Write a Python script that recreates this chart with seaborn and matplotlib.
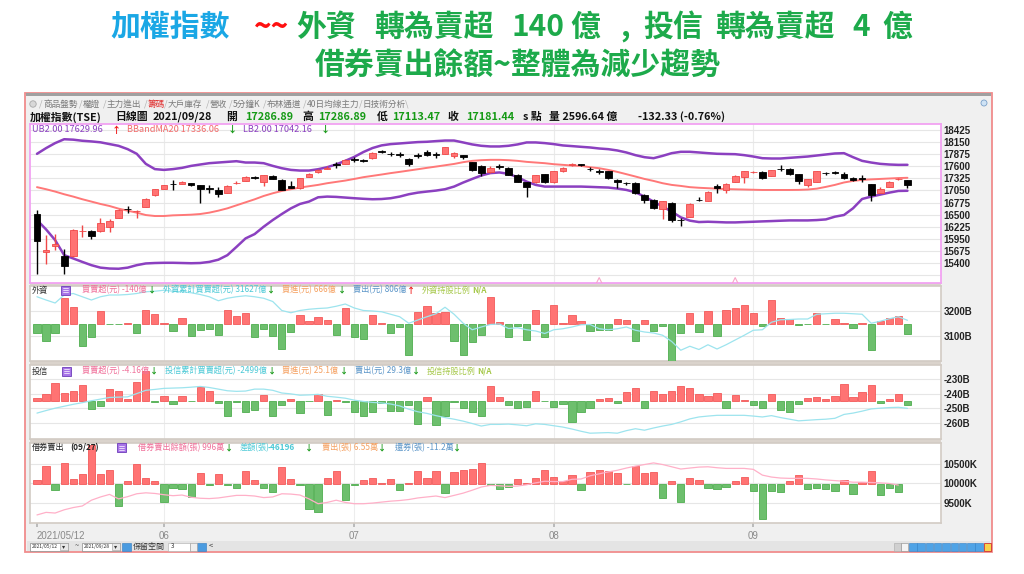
import matplotlib
matplotlib.use("Agg")
import matplotlib.pyplot as plt
from matplotlib.patches import Rectangle
import seaborn as sns

# ---------------- data ----------------
month_ticks = [0, 14, 35, 57, 79]
month_labels = ["2021/05/12", "06", "07", "08", "09"]

price_open = [16515, 15660, 15787, 15560, 15567, 16120, 16128, 16135, 16227, 16430,
              16635, 16575, 16683, 16942, 17093, 17200, 17197, 17213, 17168, 17090,
              17061, 17000, 17210, 17274, 17350, 17243, 17380, 17288, 17152, 17100,
              17365, 17465, 17545, 17635, 17652, 17750, 17730, 17783, 17930, 17880,
              17865, 17760, 17850, 17920, 17865, 17875, 17820, 17845, 17684, 17593,
              17465, 17600, 17547, 17404, 17238, 17230, 17420, 17238, 17480, 17625,
              17632, 17538, 17485, 17480, 17288, 17218, 17213, 16947, 16833, 16620,
              16772, 16385, 16456, 16838, 16810, 17152, 17061, 17238, 17365, 17460,
              17457, 17380, 17540, 17533, 17418, 17163, 17252, 17445, 17460, 17425,
              17342, 17312, 17190, 17000, 17138, 17300, 17286.89]
price_close = [15908, 15700, 15833, 15348, 16151, 16140, 16020, 16303, 16357, 16606,
               16620, 16590, 16865, 17077, 17170, 17185, 17243, 17168, 17093, 17080,
               16963, 17152, 17225, 17365, 17340, 17395, 17320, 17061, 17115, 17330,
               17418, 17515, 17555, 17625, 17743, 17740, 17720, 17909, 17920, 17870,
               17855, 17654, 17840, 17860, 17855, 18033, 17898, 17800, 17502, 17442,
               17556, 17590, 17404, 17252, 17124, 17404, 17230, 17495, 17556, 17632,
               17625, 17530, 17478, 17330, 17238, 17210, 16986, 16833, 16643, 16810,
               16378, 16375, 16735, 16830, 17024, 17100, 17197, 17380, 17480, 17468,
               17330, 17515, 17530, 17418, 17273, 17310, 17480, 17440, 17455, 17330,
               17288, 17308, 16947, 17077, 17250, 17313, 17181.44]
price_high = [16600, 16037, 16060, 15719, 16165, 16265, 16160, 16430, 16400, 16640,
              16706, 16605, 16880, 17090, 17180, 17288, 17255, 17225, 17180, 17168,
              17120, 17165, 17260, 17375, 17370, 17400, 17400, 17300, 17265, 17340,
              17440, 17530, 17600, 17690, 17760, 17800, 17760, 17930, 17960, 17920,
              17910, 17780, 17900, 17970, 17920, 18034, 17910, 17860, 17700, 17620,
              17600, 17650, 17580, 17420, 17250, 17410, 17430, 17500, 17570, 17660,
              17650, 17580, 17530, 17500, 17300, 17240, 17230, 16960, 16850, 16820,
              16790, 16430, 16760, 16900, 17030, 17200, 17210, 17390, 17490, 17480,
              17480, 17520, 17620, 17550, 17430, 17320, 17490, 17470, 17490, 17470,
              17360, 17404, 17200, 17120, 17260, 17340, 17286.89]
price_low = [15165, 15378, 15696, 15150, 15540, 16000, 15940, 16105, 16110, 16420,
             16532, 16415, 16670, 16930, 17080, 17061, 17190, 17150, 16772, 17000,
             16897, 16990, 17190, 17265, 17310, 17152, 17310, 17050, 17100, 17090,
             17350, 17440, 17530, 17560, 17640, 17690, 17690, 17770, 17900, 17820,
             17810, 17600, 17790, 17820, 17790, 17870, 17780, 17760, 17480, 17380,
             17440, 17540, 17390, 17230, 16897, 17220, 17210, 17220, 17470, 17600,
             17600, 17480, 17420, 17310, 17100, 17180, 16960, 16760, 16620, 16397,
             16340, 16248, 16440, 16800, 16800, 17000, 17000, 17230, 17220, 17440,
             17310, 17370, 17500, 17400, 17200, 17130, 17240, 17410, 17430, 17310,
             17270, 17252, 16800, 16990, 17130, 17280, 17113.47]

bb_upper = [17879, 18008, 18122, 18210, 18200, 18175, 18160, 18140, 18100, 18060,
            17985, 17880, 17652, 17533, 17515, 17533, 17561, 17606, 17637, 17667,
            17682, 17697, 17712, 17682, 17682, 17667, 17606, 17553, 17515, 17500,
            17500, 17530, 17576, 17640, 17720, 17810, 17920, 18010, 18070, 18099,
            18114, 18130, 18145, 18152, 18167, 18180, 18180, 18137, 18092, 18061,
            18046, 18046, 18061, 18092, 18137, 18137, 18122, 18099, 18069, 18054,
            18038, 18023, 18000, 17985, 17955, 17910, 17849, 17803, 17780, 17833,
            17894, 17925, 17925, 17910, 17894, 17880, 17875, 17871, 17849, 17818,
            17780, 17773, 17773, 17788, 17803, 17818, 17841, 17864, 17887, 17894,
            17803, 17720, 17682, 17652, 17637, 17629, 17630]
bb_mid = [17124, 17077, 17024, 16963, 16910, 16850, 16797, 16743, 16697, 16637,
          16591, 16546, 16492, 16470, 16470, 16485, 16492, 16500, 16515, 16546,
          16591, 16644, 16712, 16780, 16848, 16924, 16985, 17038, 17077, 17115,
          17145, 17175, 17213, 17243, 17273, 17310, 17350, 17380, 17410, 17442,
          17470, 17500, 17530, 17561, 17590, 17620, 17650, 17690, 17720, 17735,
          17743, 17743, 17735, 17720, 17697, 17682, 17667, 17644, 17629, 17614,
          17606, 17576, 17553, 17515, 17470, 17418, 17365, 17310, 17265, 17213,
          17175, 17152, 17124, 17110, 17100, 17090, 17080, 17075, 17070, 17065,
          17060, 17060, 17060, 17060, 17062, 17070, 17090, 17130, 17175, 17230,
          17265, 17288, 17300, 17310, 17320, 17330, 17336]
bb_lower = [16378, 16167, 15924, 15583, 15508, 15430, 15356, 15300, 15280, 15275,
            15300, 15356, 15395, 15405, 15410, 15410, 15405, 15400, 15405, 15430,
            15480, 15583, 15770, 15962, 16060, 16227, 16378, 16515, 16643, 16743,
            16797, 16894, 16910, 16903, 16888, 16873, 16860, 16850, 16855, 16873,
            16910, 16963, 17000, 17024, 17046, 17077, 17137, 17228, 17310, 17388,
            17442, 17457, 17425, 17350, 17250, 17175, 17137, 17137, 17137, 17137,
            17137, 17130, 17122, 17115, 17092, 17061, 17008, 16910, 16797, 16683,
            16570, 16440, 16365, 16333, 16340, 16333, 16325, 16325, 16333, 16340,
            16348, 16355, 16363, 16370, 16370, 16370, 16378, 16393, 16455, 16493,
            16645, 16856, 16910, 16955, 17000, 17038, 17042]

price_grid = [15125, 15400, 15675, 15950, 16225, 16500, 16775, 17050, 17325, 17600,
              17875, 18150, 18425]
event_idx = [62, 77]

# foreign investors: daily net (億) and cumulative (B)
foreign_net = [-119, -225, -127, 339, 220, -288, -170, 170, -8, -8,
               17, -127, 178, 127, 17, -98, 76, -161, -85, -64,
               -148, 178, 106, 140, -178, -68, -161, -331, -106, 110,
               34, 85, 51, -148, 204, -178, -204, 119, 8, -119,
               -38, -415, 157, 229, 148, 161, -225, -415, -246, -153,
               352, 25, -170, -34, -220, 187, -178, 246, 8, 110,
               42, -93, -76, -76, 64, 51, -233, 51, -93, -25,
               -500, -127, 140, -114, 165, -157, 178, 212, 246, 140,
               -25, 318, 76, 64, -13, -8, 148, -8, 64, 17,
               -51, 17, -348, 34, 76, 106, -140]
foreign_cum = [3257, 3244, 3232, 3264, 3270, 3257, 3244, 3257, 3264, 3264,
               3266, 3270, 3277, 3279, 3283, 3279, 3277, 3273, 3266, 3257,
               3241, 3251, 3257, 3261, 3257, 3251, 3238, 3202, 3193, 3202,
               3207, 3210, 3212, 3219, 3228, 3212, 3202, 3200, 3197, 3187,
               3177, 3151, 3164, 3177, 3189, 3215, 3187, 3151, 3125, 3136,
               3146, 3148, 3130, 3133, 3125, 3120, 3110, 3125, 3129, 3136,
               3145, 3146, 3129, 3125, 3129, 3136, 3123, 3116, 3112, 3103,
               3078, 3043, 3059, 3046, 3065, 3048, 3065, 3084, 3103, 3123,
               3125, 3155, 3165, 3166, 3168, 3168, 3187, 3189, 3191, 3191,
               3189, 3187, 3151, 3159, 3169, 3177, 3163]

# investment trust: daily net (億) and cumulative (B)
trust_net = [2.5, 7, 19, 8, 10, 17, -9, -6, 13, 10.5,
             1.8, 20, 31.5, -1, 5, -4, 5, -0.5, 15, 11,
             -3, -16, -1, -12, -10, 6, -16, -5, 1.8, -13,
             -0.7, 7, -15, 0.7, -1.8, -12, -16, -12, -3, -11,
             -11, -5, -25, 3.5, -26, -16, -1.8, -8, -12, -17,
             16, 3.5, -4.5, -8, -7, 10, -0.7, -7, -3.5, -23,
             -12, -8, 1.4, 2.8, -3, 9.5, 14, -8, 10.5, 7.7,
             10.5, 15.4, 14, 7, 5.3, 8, -7.7, 6, 0.7, -5,
             -7.7, 7, -10.5, -12.6, -3.5, 2.8, 3.5, 1.4, 5.3, 18,
             4.2, 9.5, 16.5, -2.8, 1.4, 7.7, -4.16]
trust_cum = [-253.1, -251.4, -249.8, -248.5, -247.2, -246.1, -244.8, -243.7, -242.6, -242.4,
             -242.2, -240.0, -237.8, -237.2, -236.5, -236.3, -236.1, -235.7, -235.2, -235.9,
             -237.0, -238.1, -238.5, -238.3, -237.0, -237.0, -237.8, -239.6, -240.2, -241.1,
             -240.9, -240.5, -241.8, -242.4, -243.1, -244.4, -245.3, -245.9, -246.3, -247.0,
             -248.3, -250.5, -252.2, -253.3, -254.8, -256.1, -257.2, -258.5, -260.1, -261.8,
             -260.7, -260.7, -260.5, -261.0, -261.6, -260.3, -260.7, -261.6, -262.5, -263.8,
             -265.3, -266.6, -266.4, -266.2, -266.6, -264.9, -263.6, -264.6, -263.1, -261.8,
             -260.7, -259.0, -257.0, -255.7, -255.1, -254.6, -254.6, -254.6, -254.6, -255.1,
             -255.7, -254.8, -256.1, -257.2, -258.3, -257.9, -257.5, -257.2, -256.6, -254.0,
             -253.1, -251.8, -250.3, -249.8, -249.4, -249.2, -249.9]

# securities lending: daily change (千張) and balance (K張), data up to 09/27
lend_net = [22, 94, -31, 111, 26, 53, 205, 53, 74, -116,
            12, 104, 33, 14, -98, -21, -26, -68, 56, -5,
            50, -5, -21, 67, 22, -22, -46, 91, 26, -5,
            -135, -149, 33, 70, -87, -5, 19, 33, 5, 26,
            -33, 5, 67, 29, 70, -50, 63, 72, 77, 111,
            -5, -26, -17, 26, 5, 33, 74, 36, 12, 46,
            -34, 63, 74, 70, 56, -3, 94, 56, 63, -74,
            12, -98, 29, 22, -22, -26, -15, 17, 34, -39,
            -190, -39, -46, 12, 46, -29, -21, -26, -39, 22,
            -53, 9, 68, -60, -22, -46.2]
lend_bal = [9204, 9269, 9252, 9334, 9391, 9431, 9577, 9659, 9724, 9610,
            9667, 9740, 9764, 9748, 9716, 9691, 9708, 9651, 9626, 9618,
            9634, 9667, 9699, 9699, 9683, 9643, 9659, 9740, 9732, 9708,
            9610, 9488, 9521, 9577, 9521, 9488, 9488, 9504, 9529, 9553,
            9569, 9594, 9634, 9659, 9683, 9643, 9699, 9756, 9830, 9911,
            9952, 9943, 9927, 9935, 9968, 10016, 10057, 10049, 10049, 10106,
            10114, 10195, 10244, 10293, 10334, 10391, 10439, 10480, 10521, 10480,
            10423, 10366, 10391, 10415, 10423, 10399, 10382, 10382, 10382, 10358,
            10212, 10163, 10138, 10130, 10130, 10130, 10114, 10090, 10073, 10057,
            10033, 10033, 10025, 10016, 10000, 9960]

# ---------------- style ----------------
sns.set_theme(style="white")
plt.rcParams['font.family'] = ['Noto Sans CJK TC', 'DejaVu Sans']
plt.rcParams['axes.unicode_minus'] = False

W, H = 1024, 574
fig = plt.figure(figsize=(W / 100, H / 100), dpi=100, facecolor='white')


def box(x0, y0, x1, y1):
    return [x0 / W, 1 - y1 / H, (x1 - x0) / W, (y1 - y0) / H]


RED, GREEN = '#FF7373', '#6DBF6D'
RED_E, GREEN_E = '#F25A5A', '#4FAE4F'
XLIM = (-0.77, 99.7)
TICKFONT = dict(fontfamily='Liberation Sans', fontweight='bold', fontsize=7, color='#222222')

# background window frame
bg = fig.add_axes([0, 0, 1, 1], zorder=-5)
bg.set_xlim(0, W)
bg.set_ylim(H, 0)
bg.axis('off')
bg.add_patch(Rectangle((25, 93), 967, 459, facecolor='#F0F0F0', edgecolor='#F08C8C', lw=1.3))
bg.add_patch(Rectangle((26, 93), 965, 3, facecolor='#A0A0A0', lw=0))
bg.add_patch(Rectangle((27, 541), 963, 10, facecolor='#E4E4E4', lw=0))
for y0 in (283, 361, 439):
    bg.add_patch(Rectangle((30, y0), 911, 4, facecolor='#DAD3CC', lw=0))

# ---------------- main candlestick chart ----------------
ax0 = fig.add_axes(box(30, 124, 941, 283))
ax0.set_xlim(*XLIM)
ax0.set_ylim(14952, 18555)
ax0.set_yticks(price_grid)
ax0.set_yticklabels([''] + [str(v) for v in price_grid[1:]], **TICKFONT)
ax0.yaxis.tick_right()
ax0.tick_params(axis='y', right=True, length=0, pad=2)
ax0.set_xticks([])
ax0.grid(axis='y', color='#E6E6E6', lw=0.8)
ax0.set_axisbelow(True)
for m in month_ticks[1:]:
    ax0.axvline(m, color='#EBEBEB', lw=0.8, zorder=0)
for s in ax0.spines.values():
    s.set_color('#F2A2F2')
    s.set_linewidth(1.3)

xs = list(range(len(price_close)))
sns.lineplot(x=xs, y=bb_upper, ax=ax0, color='#8B40C0', lw=1.8, legend=False, zorder=2)
sns.lineplot(x=xs, y=bb_lower, ax=ax0, color='#8B40C0', lw=1.8, legend=False, zorder=2)
sns.lineplot(x=xs, y=bb_mid, ax=ax0, color='#FF7878', lw=1.4, legend=False, zorder=2)

up = [c >= o for o, c in zip(price_open, price_close)]
body_lo = [min(o, c) for o, c in zip(price_open, price_close)]
body_h = [max(abs(c - o), 14) for o, c in zip(price_open, price_close)]
fill = [RED if u else '#000000' for u in up]
edge = ['#F04848' if u else '#000000' for u in up]
ax0.vlines(xs, price_low, price_high, colors=edge, lw=1.0, zorder=3)
ax0.bar(xs, body_h, bottom=body_lo, width=0.74, color=fill, edgecolor=edge, lw=0.6, zorder=4)
ax0.scatter(event_idx, [15000] * len(event_idx), marker='^', s=22, facecolors='none',
            edgecolors='#F7A6C8', lw=0.8, zorder=5)


# ---------------- lower panels ----------------
def panel(rect, bar_vals, bar_lim, line_vals, line_lim, ticks, tick_labels, line_color, xticks=False):
    ax = fig.add_axes(rect)
    ax.set_xlim(*XLIM)
    ax.set_ylim(*bar_lim)
    ax.set_yticks([])
    for s in ax.spines.values():
        s.set_color('#D2CBC4')
        s.set_linewidth(1.2)
    for m in month_ticks[1:]:
        ax.axvline(m, color='#EDEDED', lw=0.8, zorder=0)
    lo, hi = line_lim
    for t in ticks:
        f = (t - lo) / (hi - lo)
        ax.plot([0, 1], [f, f], transform=ax.transAxes, color='#E6E6E6', lw=0.8, zorder=1)
    bx = list(range(len(bar_vals)))
    ax.bar(bx, bar_vals, width=0.8,
           color=[RED if v >= 0 else GREEN for v in bar_vals],
           edgecolor=[RED_E if v >= 0 else GREEN_E for v in bar_vals], lw=0.6, zorder=3)
    if xticks:
        ax.set_xticks(month_ticks)
        ax.set_xticklabels(month_labels, fontfamily='Liberation Sans', fontsize=7, color='#8A8A8A')
        ax.tick_params(axis='x', bottom=True, length=3, color='#B4B4B4', pad=3)
        first = ax.get_xticklabels()[0]
        first.set_ha('left')
    else:
        ax.set_xticks([])
    tw = ax.twinx()
    tw.set_ylim(*line_lim)
    sns.lineplot(x=list(range(len(line_vals))), y=line_vals, ax=tw, color=line_color, lw=0.9, legend=False)
    tw.set_xlim(*XLIM)
    tw.set_yticks(ticks)
    tw.set_yticklabels(tick_labels, **TICKFONT)
    tw.tick_params(axis='y', right=True, length=0, pad=2)
    tw.set_ylabel('')
    for s in tw.spines.values():
        s.set_visible(False)
    return ax


panel(box(30, 286, 941, 361), foreign_net, (-491, 499), foreign_cum, (3000, 3300),
      [3100, 3200], ['3100B', '3200B'], '#9DE4EE')
panel(box(30, 365, 941, 439), trust_net, (-41.3, 38.5), trust_cum, (-270.5, -220.8),
      [-260, -250, -240, -230], ['-260B', '-250B', '-240B', '-230B'], '#9DE4EE')
panel(box(30, 443, 941, 523), lend_net, (-209, 217), lend_bal, (9000, 11025),
      [9500, 10000, 10500], ['9500K', '10000K', '10500K'], '#FFB0C8', xticks=True)

# ---------------- overlay texts ----------------
ov = fig.add_axes([0, 0, 1, 1], zorder=10)
ov.set_xlim(0, W)
ov.set_ylim(H, 0)
ov.axis('off')


def put(x, y, s, color='#222222', size=6.0, weight='normal', ha='left', family=None):
    kw = {'fontfamily': family} if family else {}
    ov.text(x, y, s, color=color, fontsize=size, fontweight=weight, ha=ha, va='center', **kw)


# title
BLUE_T, GREEN_T = '#1AA7E5', '#1DAA4B'
title_parts = [(110, "加權指數", BLUE_T), (254, "~~", '#FF1010'), (296, "外資", GREEN_T),
               (374, "轉為賣超", GREEN_T), (511, "140", GREEN_T), (570, "億", GREEN_T),
               (620, ",", GREEN_T), (643, "投信", GREEN_T), (715, "轉為賣超", GREEN_T),
               (852, "4", GREEN_T), (882, "億", GREEN_T)]
for x, s, c in title_parts:
    put(x, 27, s, c, 21.5, 'bold')
put(518, 66, "借券賣出餘額~整體為減少趨勢", GREEN_T, 21.5, 'bold', ha='center')

# tabs
tabs = [(43, "商品盤勢"), (83, "權證"), (107, "主力進出"), (148, "籌碼"), (168, "大戶庫存"),
        (210, "營收"), (233, "5分鐘K"), (267, "布林通道"), (307, "40日均線主力"), (363, "日技術分析")]
ov.add_patch(plt.Circle((33, 104), 3.2, facecolor='#D8D8D8', edgecolor='#A8A8A8', lw=0.6))
for x, s in tabs:
    put(x - 4, 104, "/", '#B0B0B0', 6.5)
    put(x, 104.5, s, '#E03030' if s == "籌碼" else '#7A7A7A', 6.2)
put(405, 104, "\\", '#B0B0B0', 6.5)
ov.add_patch(plt.Circle((984, 103), 3.0, facecolor='#CFE3F5', edgecolor='#7AA0C8', lw=0.6))

# info line
G_INFO = '#159A15'
info = [(30, "加權指數(TSE)", '#111111'), (115, "日線圖", '#111111'), (153, "2021/09/28", '#111111'),
        (226, "開", '#111111'), (245, "17286.89", G_INFO), (302, "高", '#111111'),
        (318, "17286.89", G_INFO), (377, "低", '#111111'), (392, "17113.47", G_INFO),
        (448, "收", '#111111'), (466, "17181.44", G_INFO), (523, "s 點", '#111111'),
        (549, "量 2596.64 億", '#111111'), (638, "-132.33 (-0.76%)", '#111111')]
for x, s, c in info:
    put(x, 117, s, c, 7.8, 'bold')

ARR_G, ARR_R = '#1A9A1A', '#F01818'
PURPLE, PINK, CYAN, ORANGE, BLUE, OLIVE = '#8B40C0', '#F0709A', '#4CC9D6', '#F5A060', '#5B95C8', '#A6C84A'

# main chart legend
for x, s, c in [(32, "UB2.00 17629.96", PURPLE), (112, "↑", ARR_R), (127, "BBandMA20 17336.06", '#F26B6B'),
                (228, "↓", ARR_G), (243, "LB2.00 17042.16", PURPLE), (321, "↓", ARR_G)]:
    put(x, 130, s, c, 6.6, 'bold' if s in "↑↓" else 'normal')


def icon(x, y):
    ov.add_patch(Rectangle((x, y - 4.5), 9, 9, facecolor='#A874E8', edgecolor='#6C3CB8', lw=0.6))
    for dy in (-2, 0, 2):
        ov.plot([x + 2, x + 7], [y + dy, y + dy], color='white', lw=0.5)


def legend_row(y, items):
    for x, s, c, wt in items:
        put(x, y, s, c, 5.9, wt)


icon(61, 290)
legend_row(290, [(32, "外資", '#333333', 'normal'), (82, "買賣超(元) -140億", PINK, 'normal'),
                 (148, "↓", ARR_G, 'bold'), (163, "外資累計買賣超(元) 31627億", CYAN, 'normal'),
                 (267, "↓", ARR_G, 'bold'), (282, "買進(元) 666億", ORANGE, 'normal'),
                 (338, "↓", ARR_G, 'bold'), (353, "賣出(元) 806億", BLUE, 'normal'),
                 (407, "↑", ARR_R, 'bold'), (422, "外資持股比例", OLIVE, 'normal'),
                 (472, "N/A", OLIVE, 'bold')])
icon(62, 371)
legend_row(371, [(32, "投信", '#333333', 'normal'), (82, "買賣超(元) -4.16億", PINK, 'normal'),
                 (150, "↓", ARR_G, 'bold'), (165, "投信累計買賣超(元) -2499億", CYAN, 'normal'),
                 (268, "↓", ARR_G, 'bold'), (282, "買進(元) 25.1億", ORANGE, 'normal'),
                 (340, "↓", ARR_G, 'bold'), (355, "賣出(元) 29.3億", BLUE, 'normal'),
                 (412, "↓", ARR_G, 'bold'), (427, "投信持股比例", OLIVE, 'normal'),
                 (477, "N/A", OLIVE, 'bold')])
icon(117, 447.5)
legend_row(447.5, [(32, "借券賣出", '#222222', 'normal'), (70, "(09/27)", '#222222', 'bold'),
                   (138, "借券賣出餘額(張) 996萬", PINK, 'normal'), (225, "↓", ARR_G, 'bold'),
                   (240, "差額(張)", CYAN, 'normal'), (268, "-46196", CYAN, 'bold'),
                   (305, "↓", ARR_G, 'bold'), (322, "賣出(張) 6.55萬", ORANGE, 'normal'),
                   (378, "↓", ARR_G, 'bold'), (395, "還券(張) -11.2萬", BLUE, 'normal'),
                   (453, "↓", ARR_G, 'bold')])

# bottom control bar
for x0, s in [(30, "2021/05/12"), (82, "2021/09/28")]:
    ov.add_patch(Rectangle((x0, 542.5), 38, 8, facecolor='white', edgecolor='#8A8A8A', lw=0.5))
    ov.add_patch(Rectangle((x0 + 30, 543), 7.5, 7, facecolor='#E8E8E8', edgecolor='#9A9A9A', lw=0.4))
    put(x0 + 1.5, 546.5, s, '#333333', 3.6)
    put(x0 + 31.5, 546.5, "▾", '#333333', 4.5)
put(75, 546.5, "~", '#444444', 5.5)
for x0 in (122, 197):
    ov.add_patch(Rectangle((x0, 542.5), 8.5, 8, facecolor='#4A9BE0', edgecolor='#2F7AC0', lw=0.4))
put(133, 546.5, "保留空間", '#333333', 5.8)
ov.add_patch(Rectangle((168, 542.5), 22, 8, facecolor='white', edgecolor='#AAAAAA', lw=0.4))
put(171, 545.5, "3", '#333333', 4.5)
ov.add_patch(Rectangle((190, 542.5), 6.5, 8, facecolor='#EEEEEE', edgecolor='#999999', lw=0.4))
put(209, 546.5, "<", '#333333', 5.5)
ov.add_patch(Rectangle((894, 542.5), 6.5, 8, facecolor='#D0D0D0', edgecolor='#AAAAAA', lw=0.4))
ov.add_patch(Rectangle((901, 542.5), 6.5, 8, facecolor='#F4F4F4', edgecolor='#888888', lw=0.4))
for k in range(9):
    ov.add_patch(Rectangle((909 + 8.3 * k, 542.5), 7.5, 8, facecolor='#4FA3E6', edgecolor='#2F80C8', lw=0.4))
ov.add_patch(Rectangle((984, 542.5), 6.5, 8, facecolor='#F7D24A', edgecolor='#D03030', lw=0.6))

fig.savefig('out.png', dpi=100, facecolor='white')
